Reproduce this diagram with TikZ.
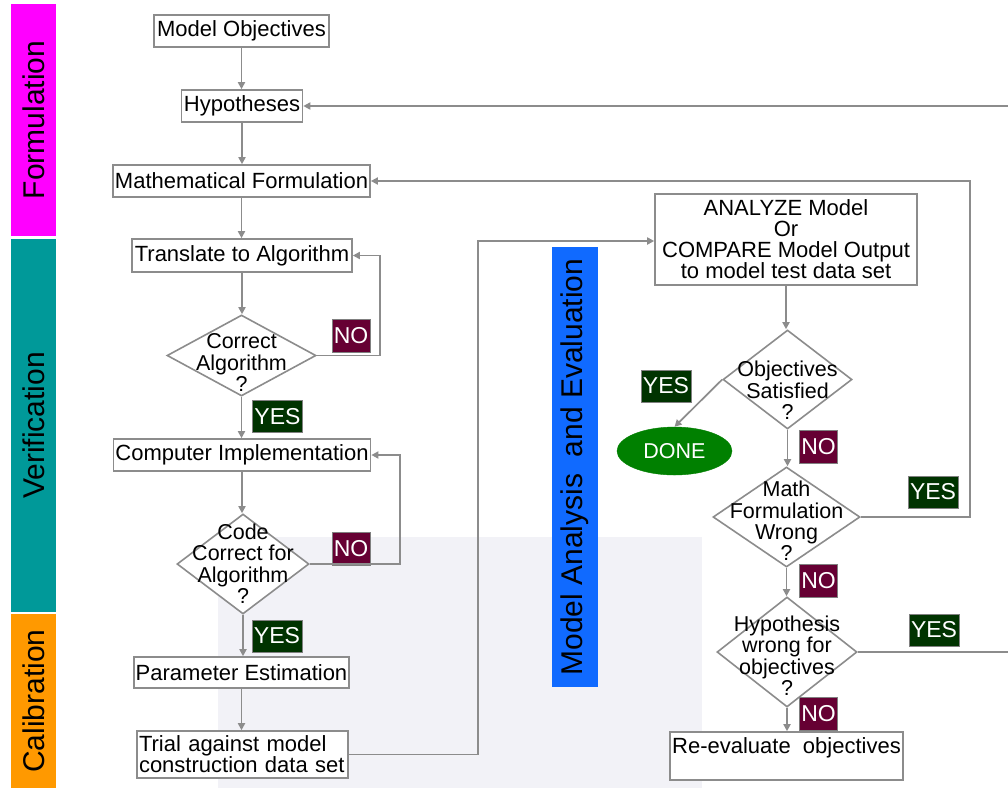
\documentclass[tikz,border=0pt]{standalone}
\usepackage{fontspec}
\setmainfont{Liberation Sans}
\usetikzlibrary{shapes.geometric,arrows.meta}
\definecolor{cmag}{RGB}{255,0,255}
\definecolor{cteal}{RGB}{0,153,153}
\definecolor{corange}{RGB}{255,153,0}
\definecolor{cblue}{RGB}{16,106,255}
\definecolor{cno}{RGB}{102,0,51}
\definecolor{cyes}{RGB}{0,51,0}
\definecolor{cdone}{RGB}{0,128,0}
\definecolor{cline}{RGB}{140,140,140}
\definecolor{cwm}{RGB}{242,242,247}
\newcommand\fsbox{\fontsize{22}{21}\selectfont}
\newcommand\fsdia{\fontsize{21.5}{20.5}\selectfont}
\newcommand\fstag{\fontsize{23}{23}\selectfont}
\newcommand\fsbar{\fontsize{30}{30}\selectfont}
\newcommand\dtext[2]{\smash{\makebox[0pt]{\raisebox{\dimexpr-#1pt-5pt\relax}{\begin{tabular}{@{}c@{}}#2\end{tabular}}}}}
\tikzset{
  x=1pt, y=-1pt,
  box/.style={draw=cline, line width=1.6pt, fill=white, inner xsep=2pt, inner ysep=0pt, font=\fsbox, align=center},
  dia/.style={draw=cline, line width=1.6pt, fill=white, diamond, inner sep=0pt, font=\fsdia},
  tag/.style={draw=gray, line width=0.9pt, inner sep=0pt, text=white, font=\fstag},
  notag/.style={tag, fill=cno, minimum width=38pt, minimum height=33pt},
  yestag/.style={tag, fill=cyes, minimum width=50pt, minimum height=32pt},
  bar/.style={rotate=90, inner sep=0pt, font=\fsbar, text=black},
  arr/.style={draw=cline, line width=1.7pt, -{Triangle[length=7pt,width=7pt]}},
  ln/.style={draw=cline, line width=1.7pt}
}
\begin{document}
\begin{tikzpicture}
\useasboundingbox (0,0) rectangle (1008,788);
\clip (0,0) rectangle (1008,788);
\fill[white] (0,0) rectangle (1008,788);
% faint watermark panel
\fill[cwm] (218,537) rectangle (702,788);

% side bars
\node[bar, fill=cmag, minimum width=232pt, minimum height=45pt] (fbar) at (33.5,120) {Formulation};
\node[bar, fill=cteal, minimum width=373pt, minimum height=45pt] (vbar) at (33.5,425.5) {Verification};
\node[bar, fill=corange, minimum width=174pt, minimum height=45pt] (cbar) at (33.5,701) {Calibration};
\node[bar, fill=cblue, minimum width=440pt, minimum height=46pt] (bbar) at (575,467) {Model Analysis\ \ and Evaluation};

% left column
\node[box, minimum width=175pt, minimum height=32pt] (mo) at (241.5,31) {Model Objectives};
\node[box, minimum width=121pt, minimum height=32pt] (hyp) at (242,106) {Hypotheses};
\node[box, minimum width=257pt, minimum height=32pt] (mf) at (241.5,181) {Mathematical Formulation};
\node[box, minimum width=220pt, minimum height=33pt] (ta) at (242,255.5) {Translate to Algorithm};
\node[dia, minimum width=149pt, minimum height=81pt] (d1) at (241.5,355.5) {\dtext{10}{Correct\\Algorithm\\?}};
\node[box, minimum width=256pt, minimum height=32pt] (ci) at (242,455) {Computer Implementation};
\node[dia, minimum width=132pt, minimum height=100pt] (d2) at (243,564) {\dtext{3}{Code\\Correct for\\Algorithm\\?}};
\node[box, minimum width=215pt, minimum height=31pt] (pe) at (241.5,672.5) {Parameter Estimation};
\node[box, align=left, minimum width=211pt, minimum height=47pt, text width=207pt] (tr) at (242.5,754.5) {Trial against model\\construction data set};

\node[notag] (no1) at (351,335.5) {NO};
\node[yestag] (yes1) at (277.5,416.5) {YES};
\node[notag] (no2) at (351,549) {NO};
\node[yestag] (yes2) at (277,636) {YES};

% right column
\node[box, minimum width=262pt, minimum height=91pt] (an) at (786,239.5) {ANALYZE Model\\Or\\COMPARE Model Output\\to model test data set};
\node[dia, minimum width=129pt, minimum height=99pt] (d3) at (787.5,379.5) {\dtext{14}{Objectives\\Satisfied\\?}};
\node[ellipse, fill=cdone, draw=cdone, minimum width=115pt, minimum height=48pt, inner sep=0pt, text=white, font=\fsdia] (done) at (674.5,451) {DONE};
\node[dia, minimum width=147pt, minimum height=100pt] (d4) at (786.5,517) {\dtext{7}{Math\\Formulation\\Wrong\\?}};
\node[dia, minimum width=140pt, minimum height=110pt] (d5) at (787,652) {\dtext{7}{Hypothesis\\wrong for\\objectives\\?}};
\node[box, minimum width=233pt, minimum height=48pt] (re) at (786.5,756) {Re-evaluate\ \ objectives\\\mbox{}};

\node[yestag] (yes3) at (666,386) {YES};
\node[notag] (no3) at (818.5,446.5) {NO};
\node[yestag] (yes4) at (933,492) {YES};
\node[notag] (no4) at (818.5,581) {NO};
\node[yestag] (yes5) at (934,630) {YES};
\node[notag] (no5) at (818.5,713.5) {NO};

% loop x positions
\coordinate (lx1) at (380,0);
\coordinate (lx2) at (400,0);
\coordinate (lx3) at (478,0);
\coordinate (lx4) at (970,0);
\coordinate (lx5) at (1020,0);

% connectors left
\draw[arr] (mo.south) -- (mo.south |- hyp.north);
\draw[arr] (hyp.south) -- (hyp.south |- mf.north);
\draw[arr] (mf.south) -- (mf.south |- ta.north);
\draw[arr] (ta.south) -- (ta.south |- d1.north);
\draw[arr] (d1.south) -- (d1.south |- ci.north);
\draw[arr] (ci.south) -- (ci.south |- d2.north);
\draw[arr] (d2.south) -- (d2.south |- pe.north);
\draw[arr] (pe.south) -- (pe.south |- tr.north);
\draw[arr] (d1.east) -- (d1.east -| lx1) |- (ta.east);
\draw[arr] (d2.east) -- (d2.east -| lx2) |- (ci.east);
\draw[arr] (tr.east) -- (tr.east -| lx3) |- ([yshift=-1.5pt]an.west);

% connectors right
\draw[arr] (an.south) -- (an.south |- d3.north);
\draw[arr] (d3.west) -- (done.north);
\draw[arr] (d3.south) -- (d3.south |- d4.north);
\draw[arr] (d4.south) -- (d4.south |- d5.north);
\draw[arr] (d5.south) -- (d5.south |- re.north);
\draw[arr] (d4.east) -- (d4.east -| lx4) |- (mf.east);
\draw[arr] (d5.east) -- (d5.east -| lx5) |- (hyp.east);
\end{tikzpicture}
\end{document}
